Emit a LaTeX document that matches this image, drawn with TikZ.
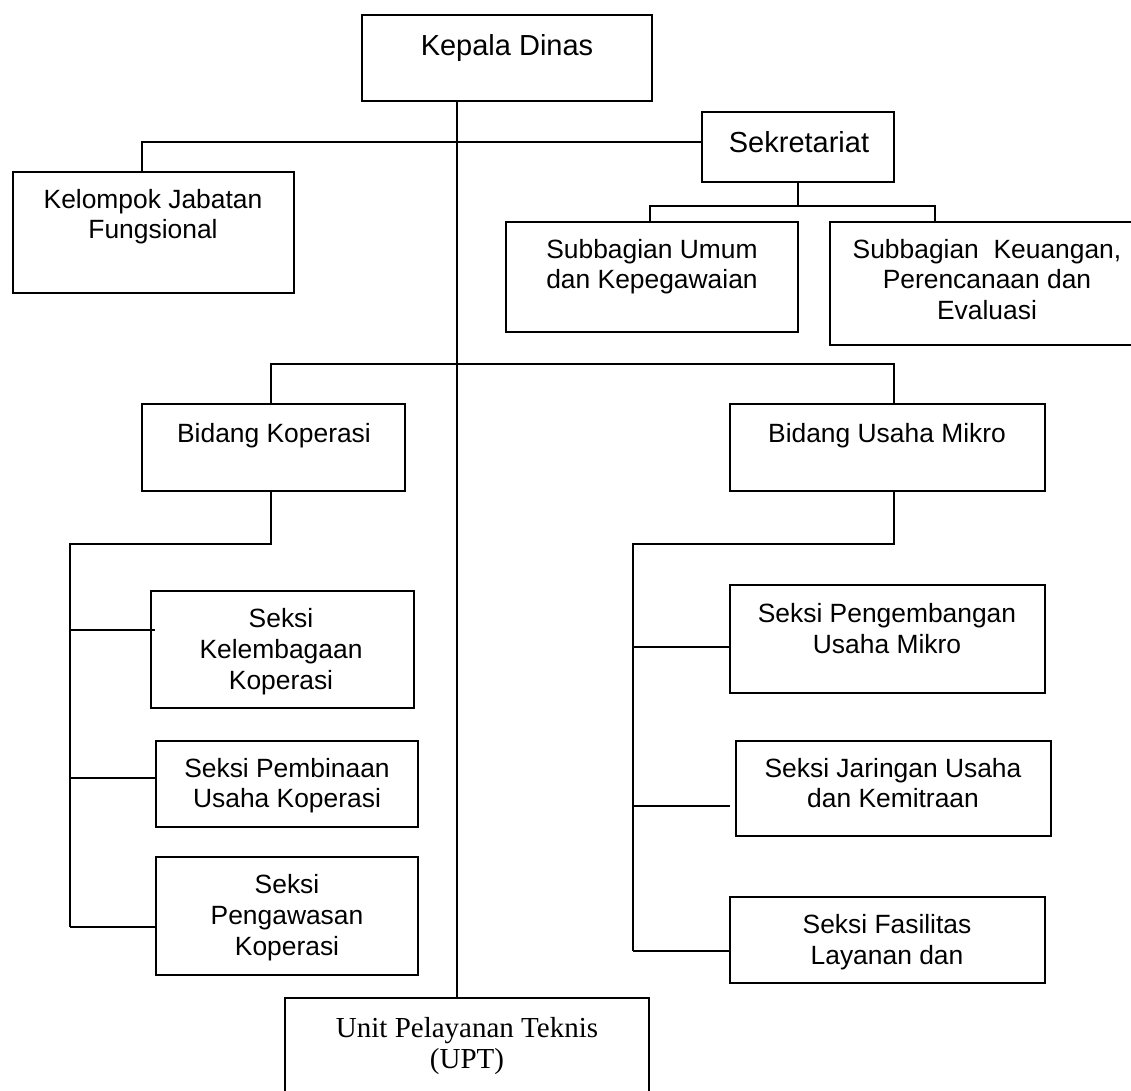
\documentclass[tikz,border=0pt]{standalone}
\usepackage{fontspec}
\setmainfont{Liberation Sans}
\newfontfamily\tnr{Liberation Serif}
\begin{document}
\begin{tikzpicture}[x=1pt,y=-1pt,
  box/.style={draw=black,line width=1.6pt,rectangle,inner sep=0pt},
  ln/.style={draw=black,line width=1.6pt},
  txt/.style={inner sep=0pt,align=center,font=\fontsize{26.4}{30.5}\selectfont,anchor=north},
  txtone/.style={inner sep=0pt,font=\fontsize{26.4}{30.5}\selectfont,anchor=base},
  big/.style={inner sep=0pt,font=\fontsize{29}{31}\selectfont,anchor=base},
  serif/.style={inner sep=0pt,align=center,font=\tnr\fontsize{29}{31}\selectfont,anchor=north}]
\fill[white] (0,0) rectangle (1131,1090);
\useasboundingbox (0,0) rectangle (1131,1090);
% boxes
\node[box,minimum width=290,minimum height=86] (kd) at (507,58) {};
\node[box,minimum width=192,minimum height=70] (sek) at (798,147) {};
\node[box,minimum width=281,minimum height=121] (kjf) at (153.5,232.5) {};
\node[box,minimum width=292,minimum height=110] (sum) at (652,277) {};
\node[box,minimum width=314,minimum height=123] (sku) at (987,283.5) {};
\node[box,minimum width=263,minimum height=87] (bk) at (273.5,447.5) {};
\node[box,minimum width=315,minimum height=87] (bum) at (887.5,447.5) {};
\node[box,minimum width=263,minimum height=117] (skk) at (282.5,649.5) {};
\node[box,minimum width=262,minimum height=86] (spuk) at (287,784) {};
\node[box,minimum width=262,minimum height=118] (spk) at (287,916) {};
\node[box,minimum width=315,minimum height=108] (spum) at (887.5,639) {};
\node[box,minimum width=315,minimum height=95] (sjuk) at (893.5,788.5) {};
\node[box,minimum width=315,minimum height=86] (sfl) at (887.5,940) {};
\node[box,minimum width=364,minimum height=110] (upt) at (467,1053) {};
% texts
\node[big] (kdt) at (507,55) {Kepala Dinas};
\node[big] (sekt) at (799,152) {Sekretariat};
\node[txt] (kjft) at (153,189) {Kelompok Jabatan\\Fungsional};
\node[txt] (sumt) at (652,239) {Subbagian Umum\\dan Kepegawaian};
\node[txt] (skut) at (987,239) {Subbagian\ \ Keuangan,\\Perencanaan dan\\Evaluasi};
\node[txtone] (bkt) at (274,442) {Bidang Koperasi};
\node[txtone] (bumt) at (887,442) {Bidang Usaha Mikro};
\node[txt,font=\fontsize{26.4}{31}\selectfont] (skkt) at (281,608) {Seksi\\Kelembagaan\\Koperasi};
\node[txt] (spukt) at (287,758) {Seksi Pembinaan\\Usaha Koperasi};
\node[txt,font=\fontsize{26.4}{31}\selectfont] (spkt) at (287,874) {Seksi\\Pengawasan\\Koperasi};
\node[txt,font=\fontsize{26.4}{31}\selectfont] (spumt) at (887,603) {Seksi Pengembangan\\Usaha Mikro};
\node[txt] (sjukt) at (893,758) {Seksi Jaringan Usaha\\dan Kemitraan};
\node[txt,font=\fontsize{26.4}{31}\selectfont] (sflt) at (887,914) {Seksi Fasilitas\\Layanan dan};
\node[serif] (uptt) at (467,1017) {Unit Pelayanan Teknis\\(UPT)};
% coordinates
\coordinate (tk) at (457,0);
\coordinate (h1) at (142,142);
\coordinate (b2) at (798,206);
\coordinate (sl) at (650,206);
\coordinate (sr) at (935,206);
\coordinate (bl) at (271,364);
\coordinate (br) at (894,364);
\coordinate (kl) at (70,544);
\coordinate (k1) at (70,630);
\coordinate (k2) at (70,778);
\coordinate (k3) at (70,927);
\coordinate (ml) at (633,544);
\coordinate (m1) at (633,647);
\coordinate (m2) at (633,806);
\coordinate (m3) at (633,951);
\coordinate (m2e) at (730,806);
% connectors
\draw[ln] (kd.south -| tk) -- (upt.north -| tk);
\draw[ln] (kjf.north -| h1) -- (h1) -- (sek.west |- h1);
\draw[ln] (sek.south) -- (b2);
\draw[ln] (sum.north -| sl) -- (sl) -- (sr) -- (sku.north -| sr);
\draw[ln] (bk.north -| bl) -- (bl) -- (br) -- (bum.north -| br);
\draw[ln] (bk.south -| bl) |- (kl) -- (k3);
\draw[ln] (k1) -- ([xshift=5pt]skk.west |- k1);
\draw[ln] (k2) -- (spuk.west |- k2);
\draw[ln] (k3) -- (spk.west |- k3);
\draw[ln] (bum.south -| br) |- (ml) -- (m3);
\draw[ln] (m1) -- (spum.west |- m1);
\draw[ln] (m2) -- (m2e);
\draw[ln] (m3) -- (sfl.west |- m3);
\end{tikzpicture}
\end{document}
